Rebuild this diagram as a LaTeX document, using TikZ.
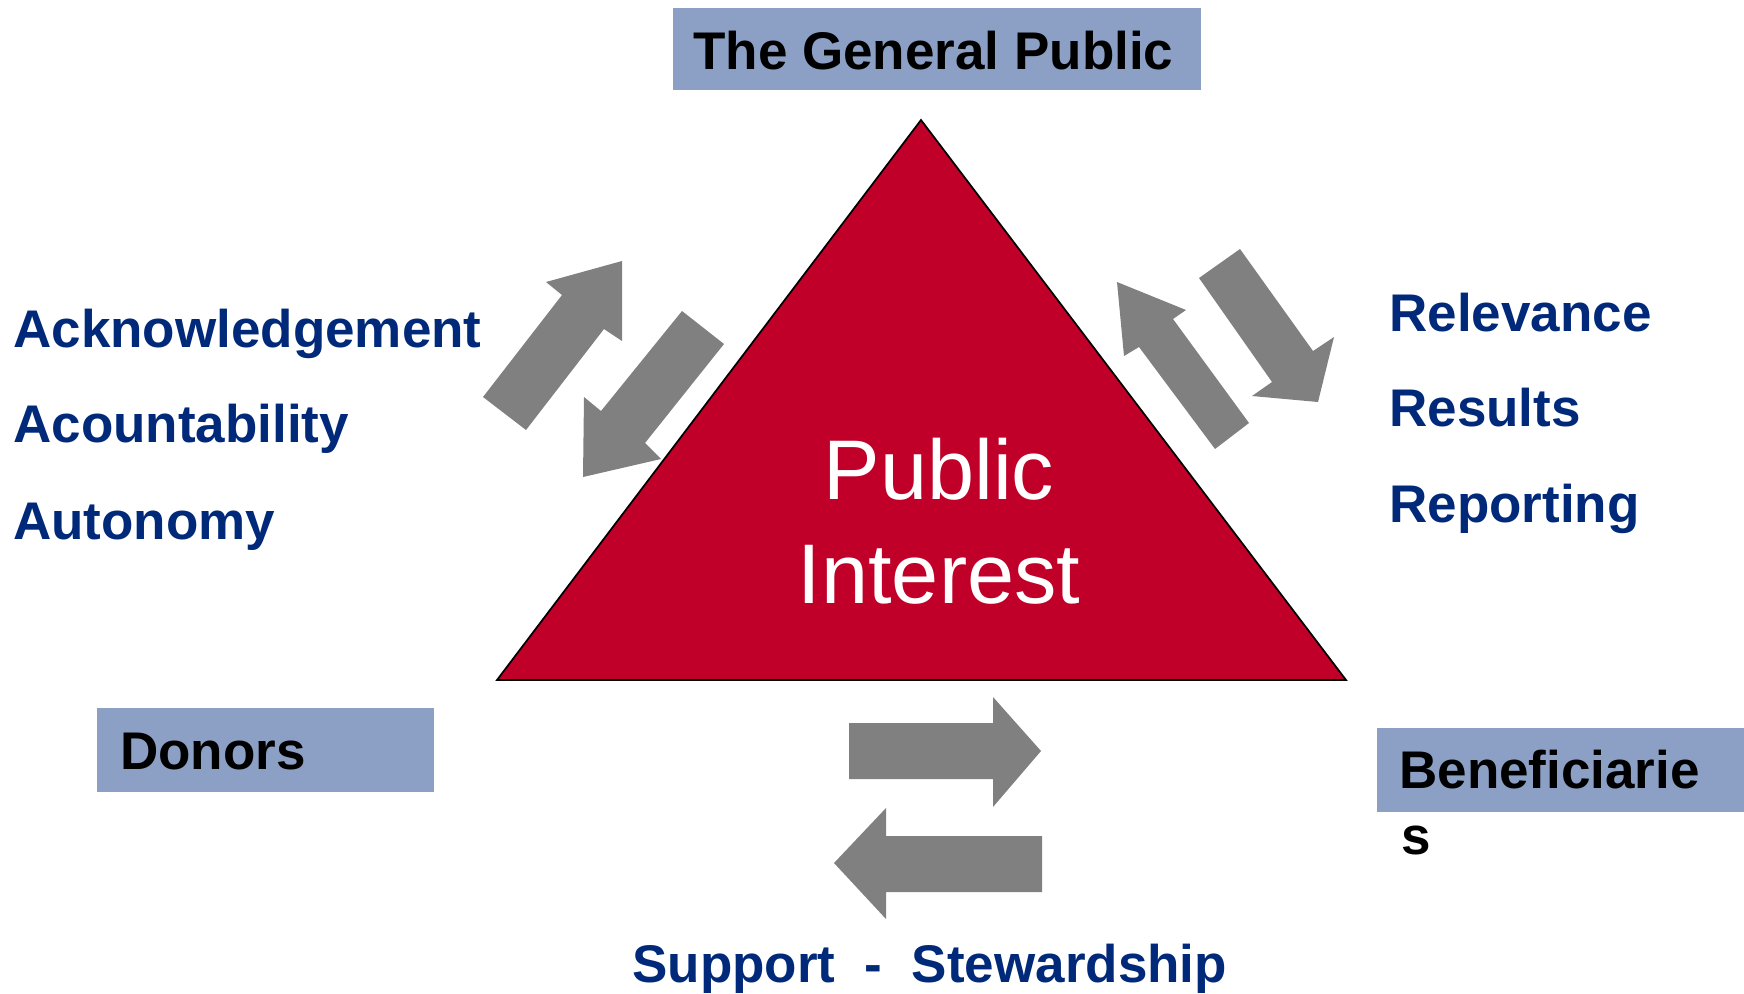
\documentclass[tikz,border=0pt]{standalone}
\usepackage{fontspec}
\setmainfont{Liberation Sans}
\definecolor{navy}{RGB}{0,41,122}
\definecolor{boxblue}{RGB}{139,160,196}
\definecolor{deepred}{RGB}{192,0,40}
\definecolor{arrowgray}{RGB}{128,128,128}
\begin{document}
\begin{tikzpicture}[x=0.75pt,y=-0.75pt,
  labelfont/.style={font=\fontsize{39.75}{48}\selectfont\bfseries},
  bluelabel/.style={labelfont,text=navy,anchor=base west,inner sep=0pt},
  blacklabel/.style={labelfont,text=black,anchor=base west,inner sep=0pt},
  partybox/.style={fill=boxblue,draw=none,inner sep=0pt,rectangle},
  blockarrow/.style={fill=arrowgray,draw=none},
  centretext/.style={font=\fontsize{63.5}{76}\selectfont,text=white,anchor=base,inner sep=0pt}]
\useasboundingbox (0,0) rectangle (1744,993);

% central triangle
\coordinate (apex) at (921,120);
\coordinate (bl) at (497,680);
\coordinate (br) at (1346,680);
\filldraw[fill=deepred,draw=black,line width=1.3pt,line join=miter] (apex) -- (br) -- (bl) -- cycle;
\node[centretext] (pub) at (939,499) {Public};
\node[centretext] (int) at (939,603) {Interest};

% stakeholder boxes (sizes in pt: 0.75pt per unit)
\node[partybox,minimum width=396pt,minimum height=61.5pt] (gpbox) at (937,49) {};
\node[blacklabel] (gp) at (693,69) {The General Public};
\node[partybox,minimum width=252.75pt,minimum height=63pt] (dobox) at (265.5,750) {};
\node[blacklabel] (do) at (120,769) {Donors};
\node[partybox,minimum width=275.25pt,minimum height=63pt] (bebox) at (1560.5,770) {};
\node[blacklabel] (be) at (1399,788) {Beneficiarie};
\node[blacklabel] (bes) at (1401,854) {s};

% left labels
\node[bluelabel] (ack) at (13,347) {Acknowledgement};
\node[bluelabel] (acc) at (13,442) {Acountability};
\node[bluelabel] (aut) at (13,539) {Autonomy};

% right labels
\node[bluelabel] (rel) at (1389,331) {Relevance};
\node[bluelabel] (res) at (1389,426) {Results};
\node[bluelabel] (rep) at (1389,522) {Reporting};

% bottom label
\node[bluelabel] (sup) at (632,982) {Support\ \ -\ \ Stewardship};

% block arrows, left pair
\fill[blockarrow] (483,397) -- (526,430) -- (604,329) -- (622,341) -- (622,261) -- (546,282) -- (562,295) -- cycle;
\fill[blockarrow] (682,311) -- (724,344) -- (645,443) -- (661,459) -- (583,477) -- (584,397) -- (601,411) -- cycle;

% block arrows, right pair
\fill[blockarrow] (1117,282) -- (1186,310) -- (1173,319) -- (1249,423) -- (1215,449) -- (1139,347) -- (1124,356) -- cycle;
\fill[blockarrow] (1199,278) -- (1240,249) -- (1313,351) -- (1334,337) -- (1318,402) -- (1252,396) -- (1272,382) -- cycle;

% block arrows, bottom pair
\fill[blockarrow] (849,723) -- (993,723) -- (993,697) -- (1041,751) -- (993,807) -- (993,779) -- (849,779) -- cycle;
\fill[blockarrow] (1042,836) -- (886,836) -- (886,808) -- (834,863) -- (886,919) -- (886,892) -- (1042,892) -- cycle;
\end{tikzpicture}
\end{document}
